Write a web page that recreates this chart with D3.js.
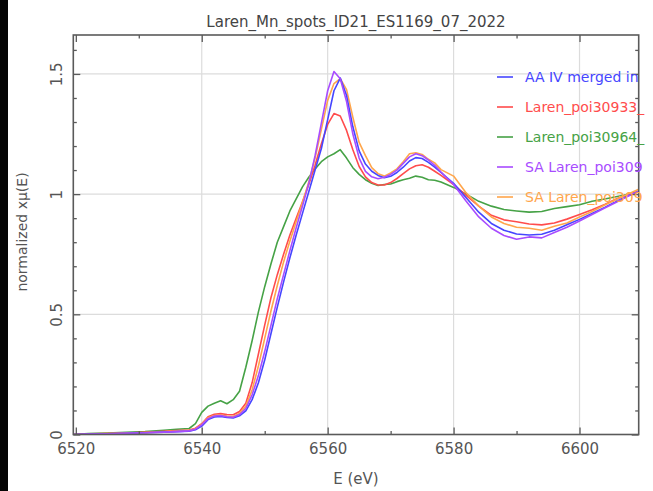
<!DOCTYPE html>
<html>
<head>
<meta charset="utf-8">
<script src="https://cdn.jsdelivr.net/npm/d3@7/dist/d3.min.js"></script>
<style>
  html, body { margin: 0; padding: 0; background: #fff; }
  svg { display: block; }
  text { font-family: "DejaVu Sans", sans-serif; }
</style>
</head>
<body>
<svg id="chart" width="653" height="491"></svg>
<script>
// Mn K-edge XANES spectra, normalized absorption vs. photon energy
const energy = [6519.6, 6522, 6525, 6528, 6531, 6534, 6536, 6538, 6539, 6540,
  6541, 6542, 6543, 6544, 6545, 6546, 6547, 6548, 6549, 6550,
  6551, 6552, 6553, 6554, 6555, 6556, 6557, 6558, 6559, 6560,
  6561, 6562, 6563, 6564, 6565, 6566, 6567, 6568, 6569, 6570,
  6571, 6572, 6573, 6574, 6575, 6576, 6577, 6578, 6580, 6582,
  6584, 6586, 6588, 6590, 6592, 6594, 6596, 6598, 6600, 6602,
  6604, 6606, 6608, 6609.4];

const aaIV = [0.000, 0.002, 0.003, 0.005, 0.007, 0.010, 0.012, 0.014, 0.020, 0.035,
  0.062, 0.073, 0.075, 0.071, 0.069, 0.078, 0.098, 0.145, 0.215, 0.310,
  0.420, 0.530, 0.635, 0.735, 0.830, 0.920, 1.010, 1.100, 1.190, 1.310,
  1.430, 1.483, 1.410, 1.280, 1.180, 1.125, 1.095, 1.078, 1.068, 1.074,
  1.090, 1.112, 1.138, 1.152, 1.148, 1.132, 1.112, 1.090, 1.045, 0.985,
  0.925, 0.878, 0.850, 0.834, 0.830, 0.833, 0.850, 0.873, 0.895, 0.920,
  0.945, 0.972, 0.996, 1.010];

const poi30933 = [0.000, 0.003, 0.004, 0.006, 0.009, 0.013, 0.016, 0.019, 0.026, 0.045,
  0.074, 0.084, 0.087, 0.083, 0.082, 0.096, 0.130, 0.215, 0.335, 0.455,
  0.570, 0.665, 0.750, 0.830, 0.900, 0.968, 1.040, 1.120, 1.210, 1.290,
  1.335, 1.325, 1.265, 1.185, 1.115, 1.072, 1.048, 1.038, 1.038, 1.048,
  1.065, 1.085, 1.105, 1.118, 1.122, 1.112, 1.095, 1.078, 1.040, 0.995,
  0.950, 0.912, 0.893, 0.885, 0.876, 0.872, 0.880, 0.896, 0.915, 0.935,
  0.957, 0.982, 1.000, 1.012];

const poi30964 = [0.000, 0.004, 0.006, 0.009, 0.012, 0.018, 0.022, 0.025, 0.045, 0.092,
  0.118, 0.130, 0.140, 0.128, 0.145, 0.180, 0.280, 0.390, 0.510, 0.615,
  0.710, 0.800, 0.865, 0.930, 0.980, 1.030, 1.070, 1.105, 1.135, 1.155,
  1.168, 1.185, 1.150, 1.110, 1.082, 1.060, 1.045, 1.036, 1.040, 1.042,
  1.052, 1.060, 1.066, 1.075, 1.070, 1.060, 1.058, 1.050, 1.028, 1.000,
  0.970, 0.950, 0.936, 0.930, 0.925, 0.928, 0.940, 0.948, 0.956, 0.970,
  0.980, 0.990, 1.000, 1.010];

const saPoiA = [0.000, 0.002, 0.003, 0.005, 0.007, 0.010, 0.012, 0.015, 0.022, 0.040,
  0.066, 0.077, 0.079, 0.074, 0.072, 0.083, 0.108, 0.165, 0.245, 0.345,
  0.455, 0.565, 0.665, 0.765, 0.860, 0.950, 1.045, 1.160, 1.295, 1.430,
  1.510, 1.480, 1.385, 1.250, 1.150, 1.095, 1.072, 1.064, 1.070, 1.082,
  1.100, 1.128, 1.155, 1.168, 1.160, 1.142, 1.120, 1.092, 1.040, 0.970,
  0.905, 0.858, 0.828, 0.812, 0.822, 0.818, 0.840, 0.862, 0.888, 0.915,
  0.942, 0.968, 0.995, 1.012];

const saPoiB = [0.000, 0.002, 0.004, 0.006, 0.008, 0.011, 0.014, 0.017, 0.024, 0.042,
  0.070, 0.079, 0.081, 0.077, 0.075, 0.088, 0.118, 0.185, 0.285, 0.400,
  0.515, 0.620, 0.718, 0.805, 0.885, 0.965, 1.050, 1.150, 1.270, 1.390,
  1.460, 1.480, 1.435, 1.320, 1.215, 1.160, 1.110, 1.085, 1.075, 1.088,
  1.105, 1.135, 1.168, 1.172, 1.165, 1.145, 1.130, 1.102, 1.075, 1.005,
  0.950, 0.905, 0.878, 0.862, 0.858, 0.850, 0.866, 0.880, 0.905, 0.928,
  0.955, 0.980, 1.004, 1.020];

const seriesNames = ["AA IV merged in", "Laren_poi30933_", "Laren_poi30964_", "SA Laren_poi309", "SA Laren_poi309"];
const seriesValues = [aaIV, poi30933, poi30964, saPoiA, saPoiB];
const seriesColors = ["#4646ff", "#ff4c4c", "#46a246", "#a84cff", "#ffa64c"];
// drawing order: later series sit on top
const drawOrder = [2, 1, 4, 0, 3];

const xMajor = [6520, 6540, 6560, 6580, 6600];
const xMinor = [6530, 6550, 6570, 6590];
const yMajor = [0, 0.5, 1, 1.5];
const yMinor = [0.1, 0.2, 0.3, 0.4, 0.6, 0.7, 0.8, 0.9, 1.1, 1.2, 1.3, 1.4, 1.6];

const titleText = "Laren_Mn_spots_ID21_ES1169_07_2022";
const xLabel = "E (eV)";
const yLabel = "normalized xμ(E)";

const svg = d3.select("#chart");
const W = 653, H = 491;
const plot = { left: 73.3, right: 638.7, top: 35, bottom: 434.5 };

const x = d3.scaleLinear().domain([6519.6, 6609.4]).range([plot.left, plot.right]);
const y = d3.scaleLinear().domain([0, 1.662]).range([plot.bottom, plot.top]);

// dark strip on the left edge of the window
svg.append("rect").attr("x", 0).attr("y", 0).attr("width", 8).attr("height", H).attr("fill", "#050505");

// grid
const grid = svg.append("g").attr("stroke", "#dcdcdc").attr("stroke-width", 1.2);
grid.selectAll(".gx").data(xMajor.slice(1)).join("line")
  .attr("x1", d => x(d)).attr("x2", d => x(d)).attr("y1", plot.top).attr("y2", plot.bottom);
grid.selectAll(".gy").data(yMajor.slice(1)).join("line")
  .attr("x1", plot.left).attr("x2", plot.right).attr("y1", d => y(d)).attr("y2", d => y(d));

// spectra
svg.append("clipPath").attr("id", "clip").append("rect")
  .attr("x", plot.left).attr("y", plot.top)
  .attr("width", plot.right - plot.left).attr("height", plot.bottom - plot.top);

const line = d3.line().x(d => x(d[0])).y(d => y(d[1]));
const curves = svg.append("g").attr("clip-path", "url(#clip)");
drawOrder.forEach(i => {
  curves.append("path")
    .datum(energy.map((e, k) => [e, seriesValues[i][k]]))
    .attr("fill", "none")
    .attr("stroke", seriesColors[i])
    .attr("stroke-width", 1.6)
    .attr("stroke-linejoin", "round")
    .attr("d", line);
});

// axes with inward ticks on all four sides
const axisColor = "#5a5a5a";
function styleAxis(g) {
  g.select(".domain").remove();
  g.selectAll(".tick line").attr("stroke", axisColor).attr("stroke-width", 1.3);
  g.selectAll("text").attr("fill", "#555").style("font-size", "15px");
}
svg.append("g").attr("transform", `translate(0,${plot.bottom})`)
  .call(d3.axisBottom(x).tickValues(xMajor).tickSize(-7).tickPadding(9).tickFormat(d3.format("d")))
  .call(styleAxis);
svg.append("g").attr("transform", `translate(0,${plot.bottom})`)
  .call(d3.axisBottom(x).tickValues(xMinor).tickSize(-3.5).tickFormat(""))
  .call(styleAxis);
svg.append("g").attr("transform", `translate(0,${plot.top})`)
  .call(d3.axisTop(x).tickValues(xMajor).tickSize(-7).tickFormat(""))
  .call(styleAxis);
svg.append("g").attr("transform", `translate(0,${plot.top})`)
  .call(d3.axisTop(x).tickValues(xMinor).tickSize(-3.5).tickFormat(""))
  .call(styleAxis);

const yAxis = svg.append("g").attr("transform", `translate(${plot.left},0)`)
  .call(d3.axisLeft(y).tickValues(yMajor).tickSize(-7).tickFormat(d => d3.format("")(d)))
  .call(styleAxis);
yAxis.selectAll(".tick text")
  .attr("x", null).attr("dy", null)
  .attr("text-anchor", "middle")
  .attr("transform", "translate(-11,0) rotate(-90)");
svg.append("g").attr("transform", `translate(${plot.left},0)`)
  .call(d3.axisLeft(y).tickValues(yMinor).tickSize(-3.5).tickFormat(""))
  .call(styleAxis);
svg.append("g").attr("transform", `translate(${plot.right},0)`)
  .call(d3.axisRight(y).tickValues(yMajor).tickSize(-7).tickFormat(""))
  .call(styleAxis);
svg.append("g").attr("transform", `translate(${plot.right},0)`)
  .call(d3.axisRight(y).tickValues(yMinor).tickSize(-3.5).tickFormat(""))
  .call(styleAxis);

// frame
svg.append("rect")
  .attr("x", plot.left).attr("y", plot.top)
  .attr("width", plot.right - plot.left).attr("height", plot.bottom - plot.top)
  .attr("fill", "none").attr("stroke", axisColor).attr("stroke-width", 1.6);

// titles
svg.append("text").attr("x", (plot.left + plot.right) / 2).attr("y", 27)
  .attr("text-anchor", "middle").attr("fill", "#444").style("font-size", "15px").text(titleText);
svg.append("text").attr("x", (plot.left + plot.right) / 2).attr("y", 484)
  .attr("text-anchor", "middle").attr("fill", "#555").style("font-size", "15px").text(xLabel);
svg.append("text").attr("transform", "translate(27,232) rotate(-90)")
  .attr("text-anchor", "middle").attr("fill", "#555").style("font-size", "14px").text(yLabel);

// legend
const legendRows = [77, 107, 137, 167, 197];
const legend = svg.append("g");
seriesNames.forEach((name, i) => {
  const g = legend.append("g").attr("transform", `translate(0,${legendRows[i]})`);
  g.append("line").attr("x1", 497).attr("x2", 513).attr("y1", 0).attr("y2", 0)
    .attr("stroke", seriesColors[i]).attr("stroke-width", 1.6);
  g.append("text").attr("x", 525).attr("y", 0).attr("dy", "0.36em")
    .attr("fill", seriesColors[i]).style("font-size", "14px").text(name);
});
</script>
</body>
</html>
